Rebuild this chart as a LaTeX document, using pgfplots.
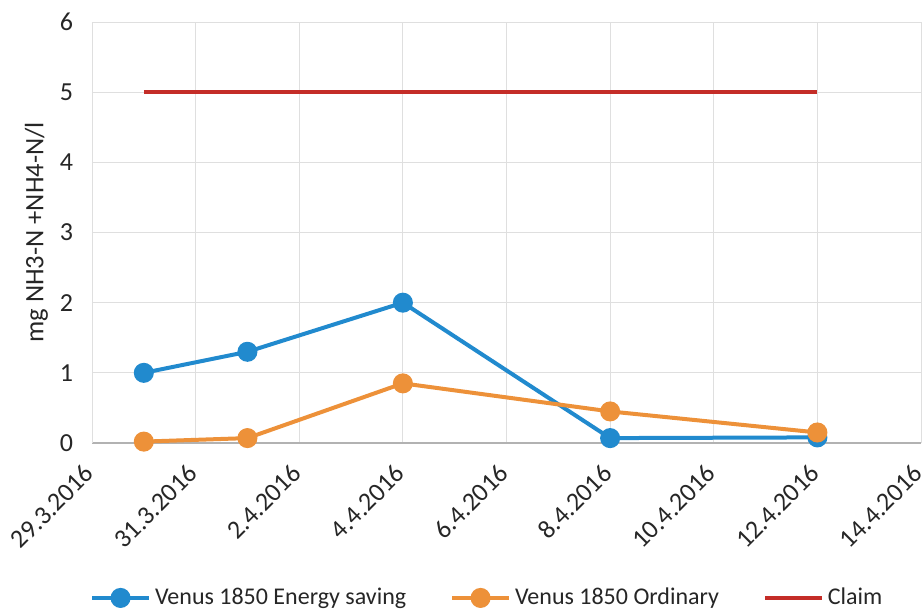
\documentclass[border=0pt]{standalone}
\usepackage{pgfplots}
\pgfplotsset{compat=1.18}
\usepackage{fontspec}
\setmainfont{Carlito}
\definecolor{cblue}{RGB}{33,138,206}
\definecolor{corange}{RGB}{237,145,57}
\definecolor{cred}{RGB}{196,45,40}
\begin{document}
\begin{tikzpicture}
\useasboundingbox (-46pt,-84pt) rectangle (416pt,221.5pt);
\begin{axis}[
  scale only axis,
  width=414.5pt, height=210.5pt,
  xmin=0, xmax=16, ymin=0, ymax=6,
  xtick={0,2,...,16},
  xticklabels={29.3.2016,31.3.2016,2.4.2016,4.4.2016,6.4.2016,8.4.2016,10.4.2016,12.4.2016,14.4.2016},
  ytick={0,1,...,6},
  major tick length=0pt,
  grid=major,
  major grid style={gray!25, line width=0.4pt},
  axis x line*=bottom, axis y line*=left,
  x axis line style={gray!60, line width=0.6pt, -},
  y axis line style={gray!25, line width=0.4pt, -},
  tick label style={font=\fontsize{13}{15}\selectfont, text=black!85},
  /pgf/number format/assume math mode=true,
  xticklabel style={rotate=45, anchor=east, yshift=-8.25pt, xshift=-6.75pt},
  yticklabel style={xshift=-6pt},
  ylabel={mg NH3-N +NH4-N/l},
  ylabel style={font=\fontsize{13.3}{15}\selectfont, text=black!85, yshift=-1pt},
  legend columns=3,
  legend style={draw=none, at={(0.478,-0.368)}, anchor=center,
    font=\fontsize{12}{14}\selectfont, text=black!85,
    /tikz/every even column/.append style={column sep=20pt}},
  legend image code/.code={\draw[mark repeat=2, mark phase=2, #1] plot coordinates {(0cm,0cm)(0.5cm,0cm)(1cm,0cm)};},
]
\addplot[cblue, line width=2pt, mark=*, mark size=4pt, mark options={fill=cblue, draw=cblue}]
  coordinates {(1,1.00) (3,1.30) (6,2.00) (10,0.07) (14,0.08)};
\addlegendentry{Venus 1850 Energy saving}
\addplot[corange, line width=2pt, mark=*, mark size=4pt, mark options={fill=corange, draw=corange}]
  coordinates {(1,0.02) (3,0.07) (6,0.85) (10,0.45) (14,0.15)};
\addlegendentry{Venus 1850 Ordinary}
\addplot[cred, line width=2pt] coordinates {(1,5) (14,5)};
\addlegendentry{Claim}
\end{axis}
\end{tikzpicture}
\end{document}
